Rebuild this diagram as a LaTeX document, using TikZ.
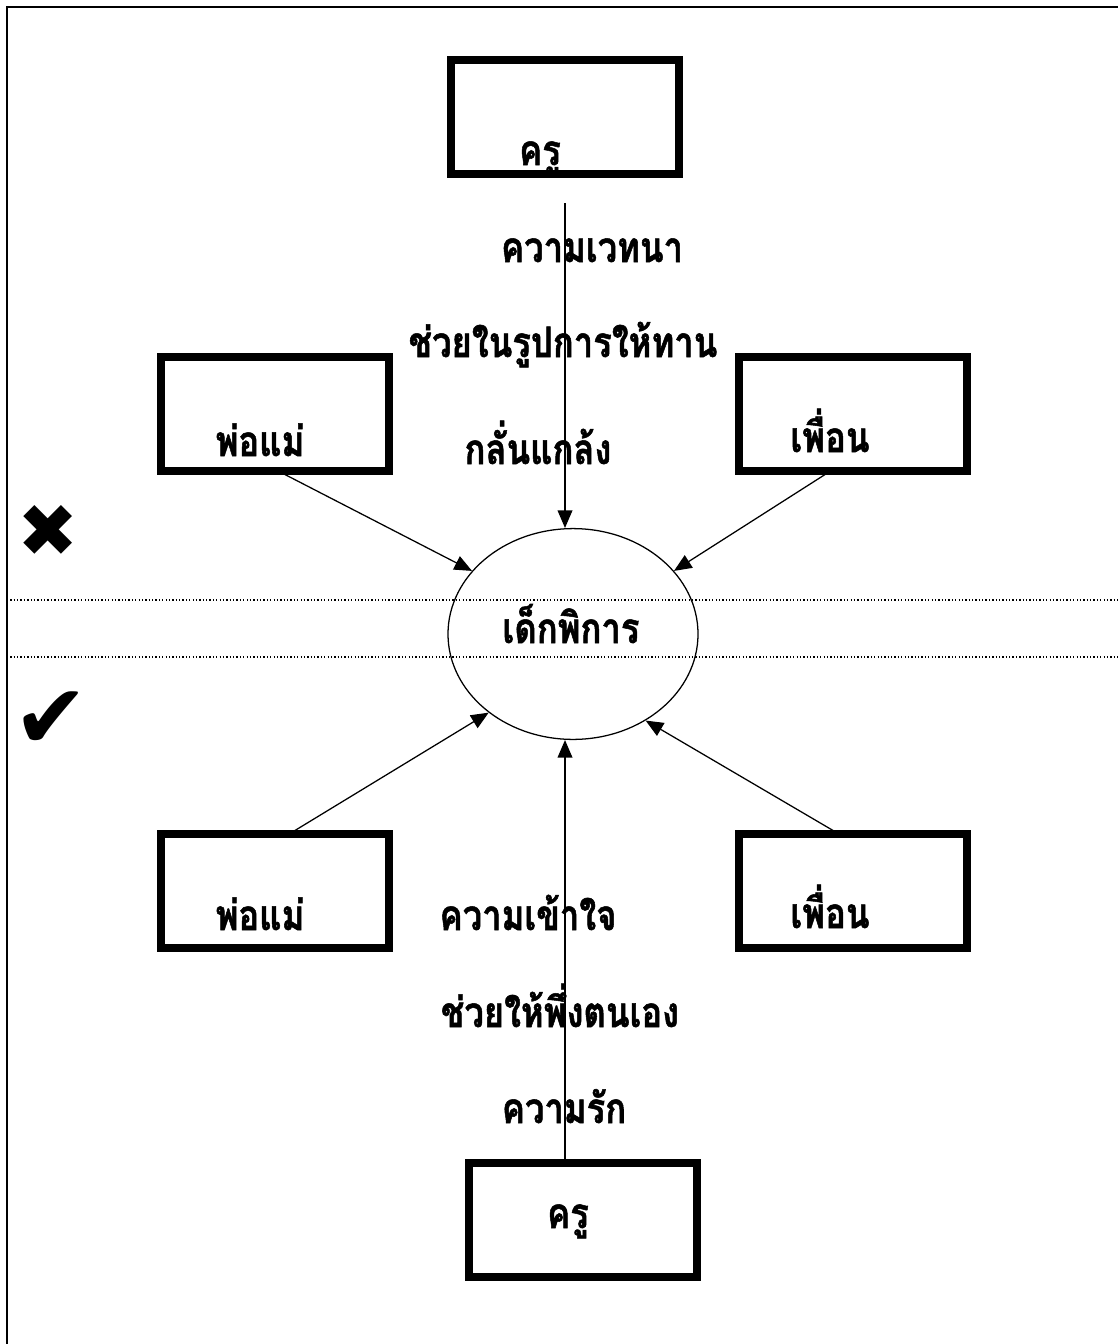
\documentclass[tikz,border=0pt]{standalone}
\usepackage{fontspec}
\newfontfamily\thaifont[Script=Thai, FakeStretch=0.82, FakeBold=1.2]{Loma}
\newfontfamily\symfont{DejaVu Sans}
\usetikzlibrary{positioning,arrows.meta,shapes.geometric}

\begin{document}
\begin{tikzpicture}[x=0.25mm, y=-0.25mm, >={Triangle[length=12.5pt,width=10.5pt]},
    box/.style={rectangle, draw, line width=5.6pt, minimum width=57mm, minimum height=28.3mm, inner sep=0pt},
    txt/.style={anchor=base, inner sep=0pt, font=\thaifont\bfseries\fontsize{30}{36}\selectfont},
    link/.style={->, line width=0.9pt},
    sep/.style={line width=0.9pt, dash pattern=on 0.9pt off 1.5pt}]
  \useasboundingbox (0,0) rectangle (1118,1344);

  % Frame and dividers
  \draw[line width=1.4pt] (7,1344) -- (7,7) -- (1118,7);
  \draw[sep] (7,600) -- (1118,600);
  \draw[sep] (7,657) -- (1118,657);

  % Marks
  \node[font=\symfont\fontsize{52}{52}\selectfont, inner sep=0pt] (bad) at (48,531) {✖};
  \node[font=\symfont\fontsize{64}{64}\selectfont, inner sep=0pt] (good) at (51,720) {✔};

  % Centre
  \node[ellipse, draw, line width=0.9pt, minimum width=62.5mm, minimum height=52.7mm] (dek) at (573,634) {};
  \node[txt] (dektxt) at (571,643) {เด็กพิการ};

  % Upper boxes
  \node[box] (kru1) at (565,117) {};
  \node[box] (pm1) at (275,414) {};
  \node[box] (fr1) at (853,414) {};
  \node[txt] (kru1txt) at (540,165) {ครู};
  \node[txt] (pm1txt) at (260,456) {พ่อแม่};
  \node[txt] (fr1txt) at (830,452) {เพื่อน};

  % Lower boxes
  \node[box] (pm2) at (275,891) {};
  \node[box] (fr2) at (853,891) {};
  \node[box] (kru2) at (583,1220) {};
  \node[txt] (pm2txt) at (260,930) {พ่อแม่};
  \node[txt] (fr2txt) at (830,928) {เพื่อน};
  \node[txt] (kru2txt) at (568,1228) {ครู};

  % Upper labels
  \node[txt] (bad1) at (592,262) {ความเวทนา};
  \node[txt] (bad2) at (563,357) {ช่วยในรูปการให้ทาน};
  \node[txt] (bad3) at (538,464) {กลั่นแกล้ง};

  % Lower labels
  \node[txt] (good1) at (528,930) {ความเข้าใจ};
  \node[txt] (good2) at (560,1027) {ช่วยให้พึ่งตนเอง};
  \node[txt] (good3) at (564,1123) {ความรัก};

  % Arrows
  \coordinate (kru1end) at (565,203);
  \draw[link] (kru1end) -- (kru1end |- dek.north);
  \draw[link] ([xshift=2.5mm]pm1.south) -- (dek.148);
  \draw[link] ([xshift=-7mm]fr1.south) -- (dek.32);
  \draw[link] ([xshift=5mm]pm2.north) -- (dek.223);
  \draw[link] ([xshift=-5mm]fr2.north) -- (dek.310);
  \draw[link] (kru1end |- kru2.north) -- (kru1end |- dek.south);
\end{tikzpicture}
\end{document}
